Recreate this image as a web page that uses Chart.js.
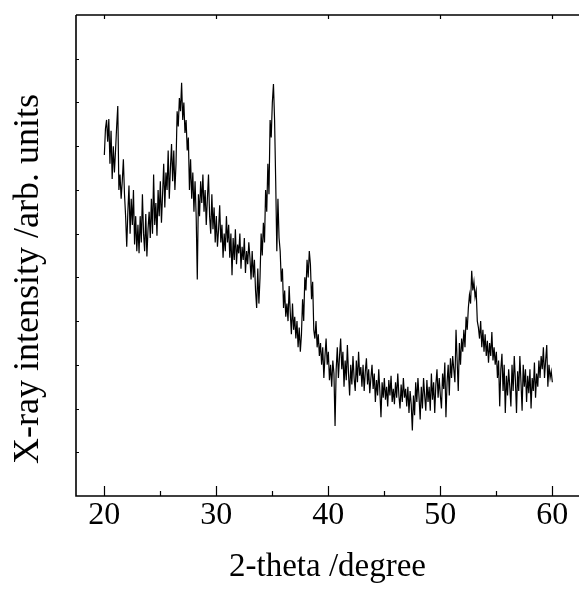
<!DOCTYPE html>
<html><head><meta charset="utf-8">
<script src="https://cdn.jsdelivr.net/npm/chart.js@4/dist/chart.umd.min.js"></script>
<style>html,body{margin:0;padding:0;background:#fff;overflow:hidden}#wrap{width:579px;height:597px;position:relative}</style>
</head><body><div id="wrap"><canvas id="c" width="579" height="597"></canvas></div>
<script>
// Sampling of the diffractogram (2-theta, degrees)
const angleStart = 20.0;
const angleStep = 0.1;
// Intensity (arb. units), one value per 0.1 degree from 20.0 to 60.0
const intensity = [
 780,840,860,810,862,760,835,725,800,740, // 20
 790,845,892,700,735,680,720,770,690,640, // 21
 570,650,710,600,680,620,700,575,640,560, // 22
 620,555,640,580,690,600,560,645,548,610, // 23
 650,590,680,600,735,620,670,595,700,640, // 24
 720,625,690,760,660,740,700,790,680,750, // 25
 805,720,790,700,760,880,845,910,880,945, // 26
 860,900,830,860,790,820,700,770,680,740, // 27
 650,720,640,495,690,640,720,670,735,650, // 28
 700,620,680,735,640,600,690,610,660,580, // 29
 640,570,610,665,580,620,545,600,560,640, // 30
 580,620,545,600,505,590,540,610,530,575, // 31
 555,600,520,570,540,590,510,560,530,580, // 32
 545,495,560,500,540,470,430,520,440,500, // 33
 600,550,625,580,700,650,760,690,860,820, // 34
 900,942,860,720,560,680,590,560,490,520, // 35
 430,470,410,440,400,480,420,370,440,380, // 36
 410,360,400,340,385,330,370,450,400,500, // 37
 470,540,500,560,530,450,490,380,360,400, // 38
 340,370,320,350,300,340,270,320,360,300, // 39
 330,265,300,250,310,280,160,290,340,270, // 40
 320,360,290,330,250,310,265,345,280,230, // 41
 300,255,320,270,240,310,260,330,275,295, // 42
 250,300,240,285,315,255,290,235,270,300, // 43
 245,280,215,265,230,290,240,180,260,225, // 44
 270,220,250,205,265,230,275,215,245,210, // 45
 260,225,280,230,200,255,215,270,225,245, // 46
 205,250,190,240,210,150,230,185,260,215, // 47
 270,225,175,250,200,270,230,195,265,215, // 48
 250,195,280,220,260,190,255,290,225,270, // 49
 230,200,280,245,305,180,260,300,230,315, // 50
 270,320,290,260,380,310,240,350,300,360, // 51
 330,380,340,410,380,430,460,440,515,470, // 52
 490,455,470,400,385,360,400,340,380,330, // 53
 370,320,355,305,350,320,375,310,340,300, // 54
 330,270,310,205,290,325,240,300,190,275, // 55
 230,290,250,205,300,240,320,265,190,285, // 56
 240,320,260,195,300,250,290,215,275,235, // 57
 290,200,270,240,305,225,280,250,310,270, // 58
 320,290,340,270,310,345,250,300,270,285, // 59
 260                                      // 60
];
const xMajorTicks = [20, 30, 40, 50, 60];
const xMinorTicks = [25, 35, 45, 55];
const yTicks = [100, 200, 300, 400, 500, 600, 700, 800, 900, 1000];
const xTitle = '2-theta /degree';
const yTitle = 'X-ray intensity /arb. units';

const points = intensity.map((v, i) => ({x: +(angleStart + i * angleStep).toFixed(2), y: v}));
const FONT = '"Liberation Serif", "Times New Roman", serif';

const framePlugin = {
  id: 'frame',
  afterDraw(chart) {
    const {ctx, chartArea: a, scales: {x, y}} = chart;
    ctx.save();
    ctx.strokeStyle = '#000';
    ctx.lineWidth = 1.6;
    ctx.beginPath();
    ctx.moveTo(a.left, a.top); ctx.lineTo(a.left, a.bottom); ctx.lineTo(chart.width + 2, a.bottom);
    ctx.moveTo(a.left, a.top); ctx.lineTo(chart.width + 2, a.top);
    ctx.stroke();
    ctx.lineWidth = 1.2;
    ctx.beginPath();
    xMajorTicks.forEach(v => {
      const px = Math.round(x.getPixelForValue(v)) + 0.5;
      ctx.moveTo(px, a.bottom); ctx.lineTo(px, a.bottom - 10);
      ctx.moveTo(px, a.top); ctx.lineTo(px, a.top + 4);
    });
    xMinorTicks.forEach(v => {
      const px = Math.round(x.getPixelForValue(v)) + 0.5;
      ctx.moveTo(px, a.bottom); ctx.lineTo(px, a.bottom - 5);
    });
    yTicks.forEach(v => {
      const py = Math.round(y.getPixelForValue(v)) + 0.5;
      ctx.moveTo(a.left, py); ctx.lineTo(a.left + 3, py);
    });
    ctx.stroke();
    ctx.translate(38, 279);
    ctx.rotate(-Math.PI / 2);
    ctx.font = '36px ' + FONT;
    ctx.fillStyle = '#000';
    ctx.textAlign = 'center';
    ctx.textBaseline = 'alphabetic';
    ctx.fillText(yTitle, 0, 0);
    ctx.restore();
  }
};

new Chart(document.getElementById('c'), {
  type: 'line',
  data: {datasets: [{data: points, borderColor: '#000', borderWidth: 1.2, pointRadius: 0, tension: 0, fill: false}]},
  options: {
    responsive: false,
    animation: false,
    events: [],
    layout: {padding: {top: 15, right: 0, bottom: 0, left: 0}},
    plugins: {legend: {display: false}, tooltip: {enabled: false}},
    scales: {
      x: {
        type: 'linear', min: 17.47, max: 62.38,
        grid: {display: false, drawTicks: false},
        border: {display: false},
        afterBuildTicks: s => { s.ticks = xMajorTicks.map(v => ({value: v})); },
        afterFit: s => { s.height = 101; },
        ticks: {color: '#000', padding: 0, maxRotation: 0, font: {family: FONT, size: 32}, callback: v => String(v)},
        title: {display: true, text: xTitle, color: '#000', font: {family: FONT, size: 33}, padding: {top: 0, bottom: 10}}
      },
      y: {
        min: 0, max: 1100,
        grid: {display: false, drawTicks: false},
        border: {display: false},
        ticks: {display: false},
        afterFit: s => { s.width = 76; }
      }
    }
  },
  plugins: [framePlugin]
});
</script>
</body></html>
